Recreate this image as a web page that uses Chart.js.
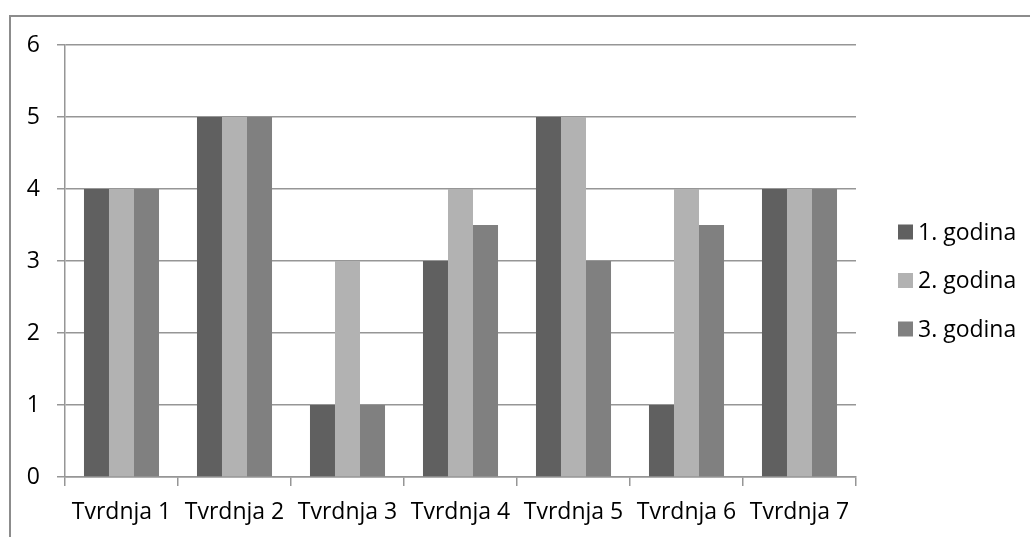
<!DOCTYPE html>
<html>
<head>
<meta charset="utf-8">
<script src="https://cdn.jsdelivr.net/npm/chart.js@4/dist/chart.umd.min.js"></script>
<style>
  html, body { margin: 0; padding: 0; background: #fff; }
  #wrap { width: 1030px; height: 537px; }
</style>
</head>
<body>
<div id="wrap"><canvas id="bars"></canvas></div>
<script>
// data
const categories = ['Tvrdnja 1', 'Tvrdnja 2', 'Tvrdnja 3', 'Tvrdnja 4', 'Tvrdnja 5', 'Tvrdnja 6', 'Tvrdnja 7'];
const seriesNames = ['1. godina', '2. godina', '3. godina'];
const year1 = [4, 5, 1, 3, 5, 1, 4];
const year2 = [4, 5, 3, 4, 5, 4, 4];
const year3 = [4, 5, 1, 3.5, 3, 3.5, 4];
const yTicks = [0, 1, 2, 3, 4, 5, 6];

const colors = ['#606060', '#b2b2b2', '#808080'];
const fontFamily = '"Open Sans", "Noto Sans", sans-serif';

// outer frame of the Excel chart (only top and left edges show)
const framePlugin = {
  id: 'frame',
  beforeDraw(chart) {
    const ctx = chart.ctx;
    ctx.save();
    ctx.strokeStyle = '#8c8c8c';
    ctx.lineWidth = 2;
    ctx.beginPath();
    ctx.moveTo(10, chart.height);
    ctx.lineTo(10, 16);
    ctx.lineTo(chart.width, 16);
    ctx.stroke();
    ctx.restore();
  }
};

// legend on the right, drawn by hand so it sits where Excel put it
const legendPlugin = {
  id: 'sideLegend',
  afterDraw(chart) {
    const ctx = chart.ctx;
    ctx.save();
    ctx.font = '23px ' + fontFamily;
    ctx.textBaseline = 'middle';
    ctx.textAlign = 'left';
    chart.data.datasets.forEach(function(ds, i) {
      const cy = 232 + i * 48.5;
      ctx.fillStyle = ds.backgroundColor;
      ctx.fillRect(898, cy - 7.5, 15, 15);
      ctx.fillStyle = '#000';
      ctx.fillText(ds.label, 918, cy + 1);
    });
    ctx.restore();
  }
};

window.onload = function() {
  var ctx = document.getElementById('bars').getContext('2d');

  var data = {
    labels: categories,
    datasets: [year1, year2, year3].map(function(vals, i) {
      return {
        label: seriesNames[i],
        data: vals,
        backgroundColor: colors[i],
        borderWidth: 0,
        categoryPercentage: 0.664,
        barPercentage: 1.0
      };
    })
  };

  var config = {
    type: 'bar',
    data: data,
    plugins: [framePlugin, legendPlugin],
    options: {
      responsive: true,
      maintainAspectRatio: false,
      animation: false,
      layout: {
        padding: { left: 0, right: 174, top: 45, bottom: 0 }
      },
      plugins: {
        legend: { display: false },
        tooltip: { enabled: false }
      },
      scales: {
        x: {
          grid: {
            offset: true,
            drawOnChartArea: false,
            drawTicks: true,
            tickLength: 9,
            color: '#969696',
            lineWidth: 1.5
          },
          border: { color: '#969696', width: 1.5 },
          ticks: {
            color: '#000',
            font: { family: fontFamily, size: 23 },
            padding: 13,
            maxRotation: 0,
            autoSkip: false
          },
          afterFit: function(scale) { scale.height = 60; }
        },
        y: {
          min: 0,
          max: 6,
          afterBuildTicks: function(scale) {
            scale.ticks = yTicks.map(function(v) { return { value: v }; });
          },
          grid: {
            color: '#969696',
            lineWidth: 1.5,
            drawTicks: true,
            tickLength: 8
          },
          border: { color: '#969696', width: 1.5 },
          ticks: {
            color: '#000',
            font: { family: fontFamily, size: 23 },
            padding: 17
          },
          afterFit: function(scale) { scale.width = 65; }
        }
      }
    }
  };

  var barChart = new Chart(ctx, config);
};
</script>
</body>
</html>
